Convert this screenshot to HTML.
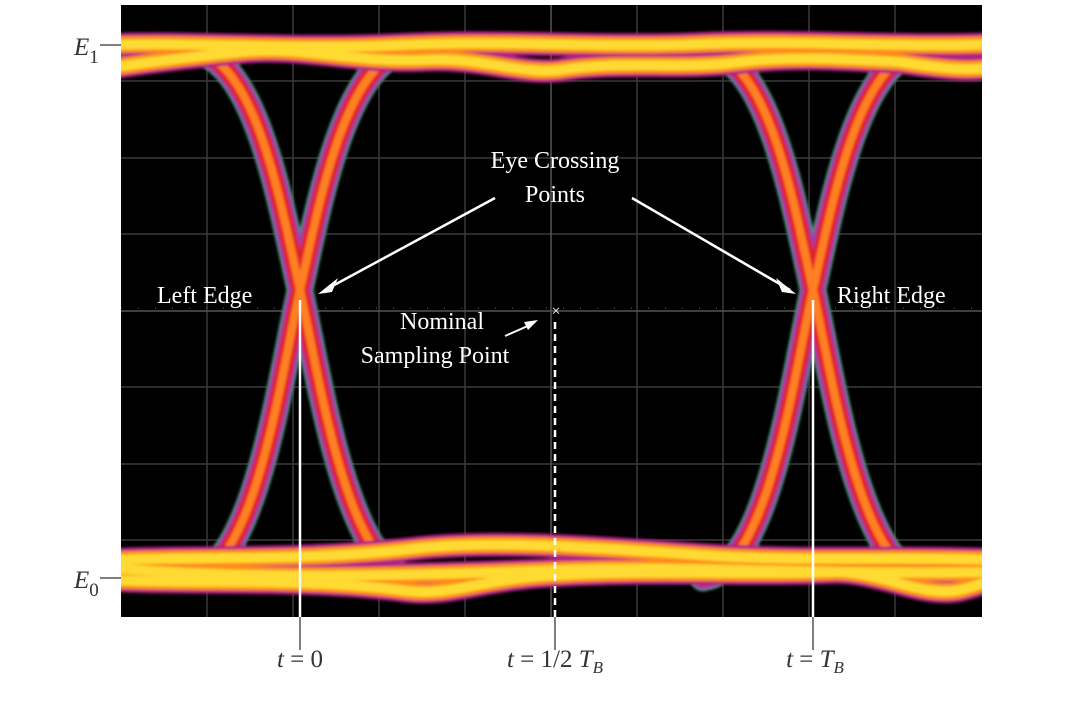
<!DOCTYPE html>
<html><head><style>
html,body{margin:0;padding:0;background:#fff;}
body{width:1090px;height:705px;overflow:hidden;position:relative;font-family:"Liberation Serif",serif;}
</style></head><body>
<svg width="1090" height="705" viewBox="0 0 1090 705" xmlns="http://www.w3.org/2000/svg">
<defs>
<filter id="blur" x="-5%" y="-5%" width="110%" height="110%"><feGaussianBlur stdDeviation="1.2"/></filter>
<clipPath id="c"><rect x="121" y="5" width="861" height="612"/></clipPath>
</defs>
<rect x="121" y="5" width="861" height="612" fill="#000"/>
<g stroke="#3a3a3a" stroke-width="1.5">
<line x1="207" y1="5" x2="207" y2="617"/><line x1="293" y1="5" x2="293" y2="617"/>
<line x1="379" y1="5" x2="379" y2="617"/><line x1="465" y1="5" x2="465" y2="617"/>
<line x1="637" y1="5" x2="637" y2="617"/><line x1="723" y1="5" x2="723" y2="617"/>
<line x1="809" y1="5" x2="809" y2="617"/><line x1="895" y1="5" x2="895" y2="617"/>
<line x1="121" y1="81" x2="982" y2="81"/><line x1="121" y1="158" x2="982" y2="158"/>
<line x1="121" y1="234" x2="982" y2="234"/><line x1="121" y1="387" x2="982" y2="387"/>
<line x1="121" y1="464" x2="982" y2="464"/><line x1="121" y1="540" x2="982" y2="540"/>
</g>
<g stroke="#555" stroke-width="1.5">
<line x1="121" y1="311" x2="982" y2="311"/><line x1="551" y1="5" x2="551" y2="617"/>
</g>
<g stroke="#666" stroke-width="1" stroke-dasharray="1 16">
<line x1="121" y1="308" x2="982" y2="308"/>
</g>
<g clip-path="url(#c)" fill="none" stroke-linecap="round" filter="url(#blur)">
<g id="tr">
<path d="M190 50 C255 55,280 200,300 290 C320 380,345 560,410 580 M190 578 C255 570,280 380,300 290 C320 200,345 60,410 48" stroke="#3a8a6a" stroke-width="27"/>
<path d="M190 50 C255 55,280 200,300 290 C320 380,345 560,410 580 M190 578 C255 570,280 380,300 290 C320 200,345 60,410 48" stroke="#9a3cb0" stroke-width="23"/>
<path d="M190 50 C255 55,280 200,300 290 C320 380,345 560,410 580 M190 578 C255 570,280 380,300 290 C320 200,345 60,410 48" stroke="#e0202a" stroke-width="17"/>
<path d="M190 50 C255 55,280 200,300 290 C320 380,345 560,410 580 M190 578 C255 570,280 380,300 290 C320 200,345 60,410 48" stroke="#ff8020" stroke-width="8"/>
</g>
<use href="#tr" transform="translate(513,0)"/>
<g id="hz">
<path d="M110 45 C200 42,300 50,400 45 C500 40,600 48,700 44 C800 40,900 48,1000 44 M110 68 C160 60,210 55,240 52 C300 46,350 62,420 60 C480 56,520 75,560 70 C620 60,680 70,740 62 C800 55,860 60,900 62 C940 68,970 72,1000 66 M110 560 C200 556,300 562,420 548 C500 540,600 548,700 555 C800 562,900 556,1000 560 M110 580 C200 584,300 578,400 590 C450 598,480 578,560 575 C650 570,760 575,830 572 C880 570,920 598,960 590 C980 585,990 580,1000 578 M110 568 C200 575,300 580,560 570 C700 565,800 575,1000 572" stroke="#b02080" stroke-width="24"/>
<path d="M110 45 C200 42,300 50,400 45 C500 40,600 48,700 44 C800 40,900 48,1000 44 M110 68 C160 60,210 55,240 52 C300 46,350 62,420 60 C480 56,520 75,560 70 C620 60,680 70,740 62 C800 55,860 60,900 62 C940 68,970 72,1000 66 M110 560 C200 556,300 562,420 548 C500 540,600 548,700 555 C800 562,900 556,1000 560 M110 580 C200 584,300 578,400 590 C450 598,480 578,560 575 C650 570,760 575,830 572 C880 570,920 598,960 590 C980 585,990 580,1000 578 M110 568 C200 575,300 580,560 570 C700 565,800 575,1000 572" stroke="#ff8c1a" stroke-width="17"/>
<path d="M110 45 C200 42,300 50,400 45 C500 40,600 48,700 44 C800 40,900 48,1000 44 M110 68 C160 60,210 55,240 52 C300 46,350 62,420 60 C480 56,520 75,560 70 C620 60,680 70,740 62 C800 55,860 60,900 62 C940 68,970 72,1000 66 M110 560 C200 556,300 562,420 548 C500 540,600 548,700 555 C800 562,900 556,1000 560 M110 580 C200 584,300 578,400 590 C450 598,480 578,560 575 C650 570,760 575,830 572 C880 570,920 598,960 590 C980 585,990 580,1000 578 M110 568 C200 575,300 580,560 570 C700 565,800 575,1000 572" stroke="#ffda30" stroke-width="10"/>
</g>
</g>
<g stroke="#fff" stroke-width="2.5">
<line x1="300" y1="300" x2="300" y2="655"/><line x1="813" y1="300" x2="813" y2="655"/>
<line x1="555" y1="322" x2="555" y2="655" stroke-dasharray="7 5"/>
<line x1="495" y1="198" x2="325" y2="290"/><line x1="632" y1="198" x2="790" y2="290"/>
<line x1="530" y1="325" x2="505" y2="336" stroke-width="2"/>
</g>
<g fill="#fff"><polygon points="318,294 338,278 332,292"/><polygon points="796,294 776,278 782,292"/><polygon points="538,320 524,322 528,330"/></g>
<text x="556" y="316" fill="#fff" font-size="16" text-anchor="middle">×</text>
<g stroke="#555" stroke-width="1.5"><line x1="300" y1="617" x2="300" y2="650"/><line x1="813" y1="617" x2="813" y2="650"/><line x1="555" y1="617" x2="555" y2="650"/>
<line x1="100" y1="45" x2="121" y2="45"/><line x1="100" y1="578" x2="121" y2="578"/></g>
<g fill="#fff" font-size="24">
<text x="555" y="168" text-anchor="middle">Eye Crossing</text>
<text x="555" y="202" text-anchor="middle">Points</text>
<text x="157" y="303">Left Edge</text>
<text x="837" y="303">Right Edge</text>
<text x="442" y="329" text-anchor="middle">Nominal</text>
<text x="435" y="363" text-anchor="middle">Sampling Point</text>
</g>
<g fill="#333" font-size="25" font-style="italic">
<text x="74" y="55">E<tspan font-style="normal" font-size="19" dy="8">1</tspan></text>
<text x="74" y="588">E<tspan font-style="normal" font-size="19" dy="8">0</tspan></text>
<text x="300" y="667" text-anchor="middle">t<tspan font-style="normal"> = 0</tspan></text>
<text x="555" y="667" text-anchor="middle">t<tspan font-style="normal"> = 1/2 </tspan>T<tspan font-size="17" dy="6">B</tspan></text>
<text x="815" y="667" text-anchor="middle">t<tspan font-style="normal"> = </tspan>T<tspan font-size="17" dy="6">B</tspan></text>
</g>
</svg>
</body></html>
